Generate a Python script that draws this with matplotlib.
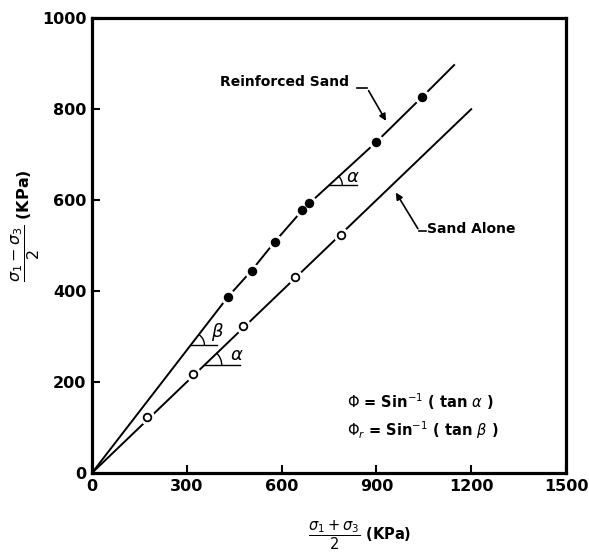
import numpy as np
import matplotlib.pyplot as plt

# valores (KPa)
x_arena = [174, 319, 477, 641, 789]
y_arena = [123, 218, 323, 431, 523]
linea_arena_x = [0, 1200]
linea_arena_y = [0, 800]

x_ref = [430, 505, 578, 666, 688, 900, 1045]
y_ref = [387, 445, 508, 578, 593, 728, 827]
linea_ref_x = [0, 430, 505, 578, 666, 688, 900, 1045, 1146]
linea_ref_y = [0, 387, 445, 508, 578, 593, 728, 827, 897]

xticks = [0, 300, 600, 900, 1200, 1500]
yticks = [0, 200, 400, 600, 800, 1000]

fig = plt.figure(figsize=(5.89, 5.52), dpi=100)
ax = fig.add_axes([0.156, 0.143, 0.805, 0.824])
ax.set_xlim(0, 1500)
ax.set_ylim(0, 1000)

# lineas
ax.plot(linea_arena_x, linea_arena_y, color="black", lw=1.4, zorder=2)
ax.plot(linea_ref_x, linea_ref_y, color="black", lw=1.4, zorder=2)

# halo blanco alrededor de los puntos (huecos en la linea)
ax.plot(x_arena, y_arena, "o", color="white", ms=10, zorder=3)
ax.plot(x_ref, y_ref, "o", color="white", ms=10, zorder=3)
ax.plot(x_arena, y_arena, "o", mfc="white", mec="black", mew=1.3, ms=5.5, zorder=4)
ax.plot(x_ref, y_ref, "o", color="black", ms=5.8, zorder=4)

# escala pixel/dato para dibujar arcos circulares
sx = 474 / 1500
sy = 455 / 1000


def angulo(x0, y0, largo, radio, pendiente, letra, tx, ty):
    ax.plot([x0, x0 + largo], [y0, y0], color="black", lw=1.0)
    th = np.arctan(pendiente * sy / sx)
    t = np.linspace(0, th, 30)
    ax.plot(x0 + radio * np.cos(t) / sx, y0 + radio * np.sin(t) / sy, color="black", lw=1.0)
    ax.text(tx, ty, letra, fontsize=13, ha="center", va="center")


angulo(315, 281, 80, 13, 0.9, r"$\beta$", 398, 310)
angulo(357, 237, 110, 17, 0.667, r"$\alpha$", 457, 259)
angulo(751, 633, 89, 13, 0.64, r"$\alpha$", 825, 650)

# etiquetas con flechas
ax.text(610, 860, "Reinforced Sand", fontsize=10, fontweight="bold", ha="center", va="center")
ax.plot([840, 871], [846, 846], color="black", lw=1.2)
ax.annotate("", xy=(935, 769), xytext=(871, 846),
            arrowprops=dict(arrowstyle="-|>", color="black", lw=1.2, mutation_scale=10))

ax.text(1060, 536, "Sand Alone", fontsize=10, fontweight="bold", ha="left", va="center")
ax.plot([1036, 1058], [532, 532], color="black", lw=1.2)
ax.annotate("", xy=(957, 622), xytext=(1036, 532),
            arrowprops=dict(arrowstyle="-|>", color="black", lw=1.2, mutation_scale=10))

ax.text(808, 156, r"$\Phi$ = Sin$^{-1}$ ( tan $\alpha$ )", fontsize=10.5, fontweight="bold", va="center")
ax.text(808, 95, r"$\Phi_r$ = Sin$^{-1}$ ( tan $\beta$ )", fontsize=10.5, fontweight="bold", va="center")

# ejes
ax.set_xticks(xticks)
ax.set_yticks(yticks)
ax.tick_params(direction="in", length=6, width=1.5, labelsize=11.5, pad=4)
for lab in ax.get_xticklabels() + ax.get_yticklabels():
    lab.set_fontweight("bold")
for s in ax.spines.values():
    s.set_linewidth(2.3)

ax.set_xlabel(r"$\dfrac{\sigma_1 + \sigma_3}{2}$ (KPa)", fontsize=10.5, fontweight="bold", va="center")
ax.xaxis.set_label_coords(0.565, -0.138)
ax.set_ylabel(r"$\dfrac{\sigma_1 - \sigma_3}{2}$ (KPa)", fontsize=11.5, fontweight="bold", va="center")
ax.yaxis.set_label_coords(-0.14, 0.543)

plt.savefig("out.png", dpi=100)
